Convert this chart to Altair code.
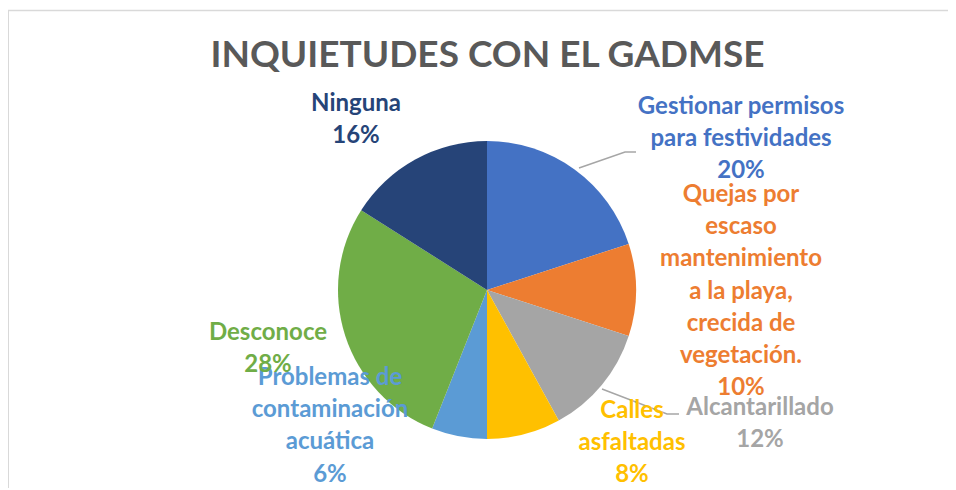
import altair as alt
import pandas as pd

# ---- data ----
categories = [
    "Gestionar permisos para festividades",
    "Quejas por escaso mantenimiento a la playa, crecida de vegetación.",
    "Alcantarillado",
    "Calles asfaltadas",
    "Problemas de contaminación acuática",
    "Desconoce",
    "Ninguna",
]
values = [20, 10, 12, 8, 6, 28, 16]
label_lines = [
    ["Gestionar permisos", "para festividades"],
    ["Quejas por", "escaso", "mantenimiento", "a la playa,", "crecida de", "vegetación."],
    ["Alcantarillado"],
    ["Calles", "asfaltadas"],
    ["Problemas de", "contaminación", "acuática"],
    ["Desconoce"],
    ["Ninguna"],
]
colors = ["#4472C4", "#ED7D31", "#A5A5A5", "#FFC000", "#5B9BD5", "#70AD47", "#264478"]
title_text = "INQUIETUDES CON EL GADMSE"

# ---- layout (page px, converted to svg px by subtracting the 8px margin) ----
M = 8
W, H = 940, 480
pie_cx, pie_cy, pie_r = 487 - M, 290 - M, 149
label_x = [741, 741, 760, 632, 330, 268, 356]
label_y = [107, 195, 408, 411, 378, 333, 104]  # centre of first line
leaders = [
    [(579, 168), (625, 152), (636, 152)],
    [(602, 389), (667, 414), (679, 414)],
]
FONT = "Lato"

total = sum(values)
df = pd.DataFrame({
    "cat": categories,
    "val": values,
    "idx": list(range(len(values))),
})
df["lines"] = [ll + [f"{round(v / total * 100)}%"] for ll, v in zip(label_lines, values)]
df["lx"] = [x - M for x in label_x]
df["ly"] = [y - M for y in label_y]

color_scale = alt.Scale(domain=categories, range=colors)

pie = alt.Chart(df).mark_arc(
    x=pie_cx, y=pie_cy, outerRadius=pie_r
).encode(
    theta=alt.Theta("val:Q", stack=True),
    order=alt.Order("idx:Q"),
    color=alt.Color("cat:N", scale=color_scale, legend=None),
)

labels = alt.Chart(df).mark_text(
    font=FONT, fontSize=24, fontWeight="bold", align="center",
    baseline="middle", lineHeight=32.2,
).encode(
    x=alt.X("lx:Q", scale=None),
    y=alt.Y("ly:Q", scale=None),
    text="lines",
    color=alt.Color("cat:N", scale=color_scale, legend=None),
)

lead_rows = []
for i, pts in enumerate(leaders):
    for j, (px, py) in enumerate(pts):
        lead_rows.append({"g": i, "o": j, "px": px - M, "py": py - M})
leader_lines = alt.Chart(pd.DataFrame(lead_rows)).mark_line(
    color="#A6A6A6", strokeWidth=1.5
).encode(
    x=alt.X("px:Q", scale=None),
    y=alt.Y("py:Q", scale=None),
    detail="g:N",
    order="o:Q",
)

title = alt.Chart(pd.DataFrame({"t": [title_text], "tx": [487.5 - M], "ty": [56 - M]})).mark_text(
    font=FONT, fontSize=37, fontWeight="bold", color="#595959", align="center", baseline="middle"
).encode(
    x=alt.X("tx:Q", scale=None),
    y=alt.Y("ty:Q", scale=None),
    text="t:N",
)

border_left = alt.Chart(pd.DataFrame({"a": [0]})).mark_rule(color="#D9D9D9", strokeWidth=2).encode(
    x=alt.value(0), y=alt.value(2.5), y2=alt.value(H)
)
border_top = alt.Chart(pd.DataFrame({"a": [0]})).mark_rule(color="#D9D9D9", strokeWidth=1.5).encode(
    x=alt.value(0), x2=alt.value(W), y=alt.value(2.5)
)

chart = alt.layer(border_left, border_top, pie, leader_lines, labels, title).properties(
    width=W, height=H, padding=0, autosize=alt.AutoSizeParams(type="none"), background="white"
).configure_view(stroke=None)

chart.save("out.html", embed_options={"renderer": "svg", "actions": False})
